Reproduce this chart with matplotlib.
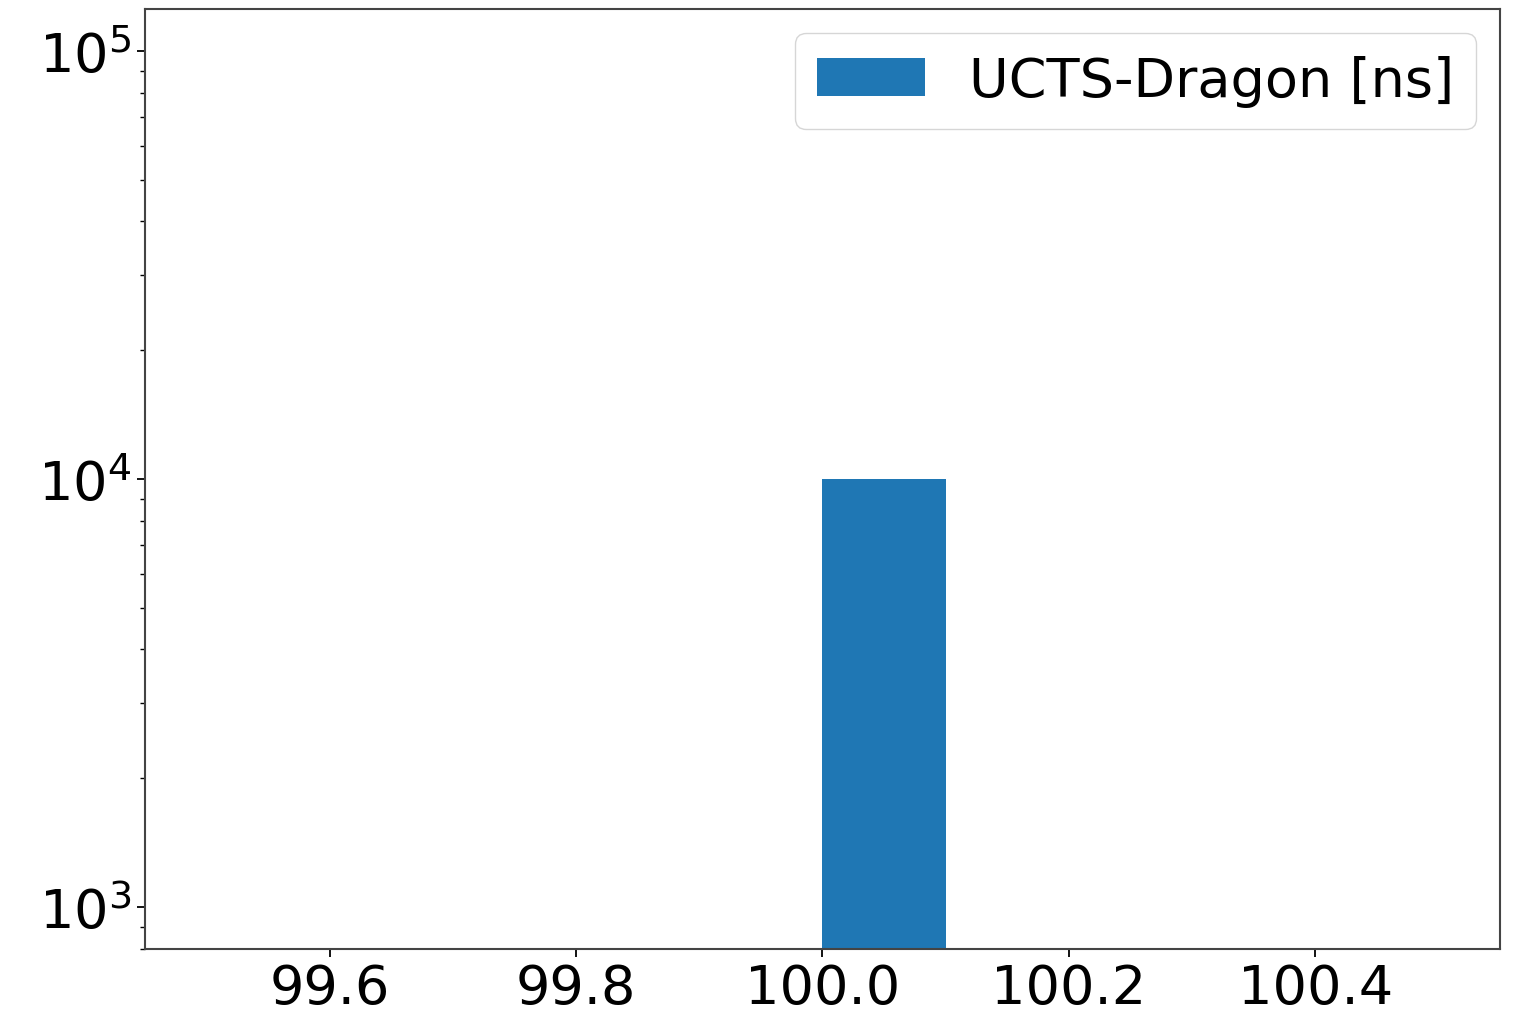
import matplotlib

matplotlib.use('Agg')
import matplotlib.pyplot as plt
import numpy as np

# all 10000 UCTS-Dragon differences sit at 100 ns
diff_value = 100.0
n_events = 10000
diffs = np.full(n_events, diff_value)

label = 'UCTS-Dragon [ns]'

fig = plt.figure(figsize=(15.25, 10.2), dpi=100)
ax = fig.add_axes([0.095, 0.0686, 0.8886, 0.9216])

ax.hist(diffs, bins=10, log=True, color='#1f77b4', label=label)
ax.set_xlim(99.45, 100.55)
ax.set_ylim(798, 1.254e5)
ax.set_xticks([99.6, 99.8, 100.0, 100.2, 100.4])

ax.tick_params(axis='both', which='major', labelsize=39, length=6, width=1.3)
ax.tick_params(axis='both', which='minor', length=3.8, width=1.0)
for sp in ax.spines.values():
    sp.set_linewidth(1.5)
    sp.set_color('#444444')

ax.legend(loc='upper right', fontsize=39, handlelength=2.0, borderpad=0.4,
          borderaxespad=0.45)

plt.savefig('out.png', dpi=100)
